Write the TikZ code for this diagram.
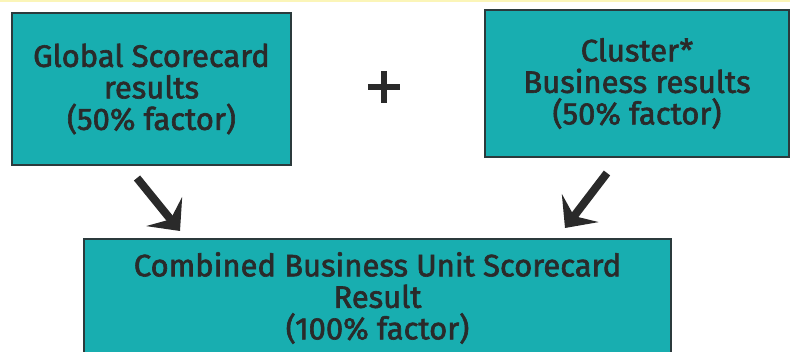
\documentclass[tikz,border=0pt]{standalone}
\usepackage{fontspec}
\setmainfont{Fira Sans}
\newfontfamily\boxfont{Fira Sans}[FakeBold=2]
\usetikzlibrary{arrows.meta}
\definecolor{tealfill}{HTML}{18AEB0}
\definecolor{boxline}{HTML}{2B3A3C}
\definecolor{ink}{HTML}{2A2A2A}
\definecolor{topband}{HTML}{FBF5B8}
\tikzset{
  box/.style={draw=boxline, line width=2pt, fill=tealfill, rectangle,
    inner sep=0pt, align=center, text=ink,
    font=\boxfont\fontsize{31}{31.5}\selectfont},
  flow/.style={draw=ink, line width=8pt,
    -{Stealth[length=25pt, width=46pt, inset=10pt]}},
  plusbar/.style={draw=ink, line width=6.5pt}
}
\begin{document}
\begin{tikzpicture}[x=1pt, y=-1pt]
  \useasboundingbox (0,0) rectangle (790,352);
  \clip (0,0) rectangle (790,352);
  % thin band along the top edge
  \fill[topband] (0,0) rectangle (790,2.5);

  % the two input scorecards
  \node[box, minimum width=279pt, minimum height=152pt] (global) at (151.5,89)
    {Global Scorecard\\results\\(50\% factor)};
  \node[box, minimum width=304pt, minimum height=147pt] (cluster) at (637,83.5)
    {Cluster*\\Business results\\(50\% factor)};

  % plus sign between them
  \node[minimum size=32pt, inner sep=0pt] (plus) at (384,87) {};
  \draw[plusbar] (plus.west) -- (plus.east);
  \draw[plusbar] (plus.north) -- (plus.south);

  % the combined result
  \node[box, minimum width=587pt, minimum height=118pt] (combined) at (377.5,298)
    {Combined Business Unit Scorecard\\Result\\(100\% factor)};

  % arrow end points
  \coordinate (gs) at (137,178);
  \coordinate (ge) at (180,231);
  \coordinate (cs) at (607,173);
  \coordinate (ce) at (565,228);
  \draw[flow] (gs) -- (ge);
  \draw[flow] (cs) -- (ce);
\end{tikzpicture}
\end{document}
